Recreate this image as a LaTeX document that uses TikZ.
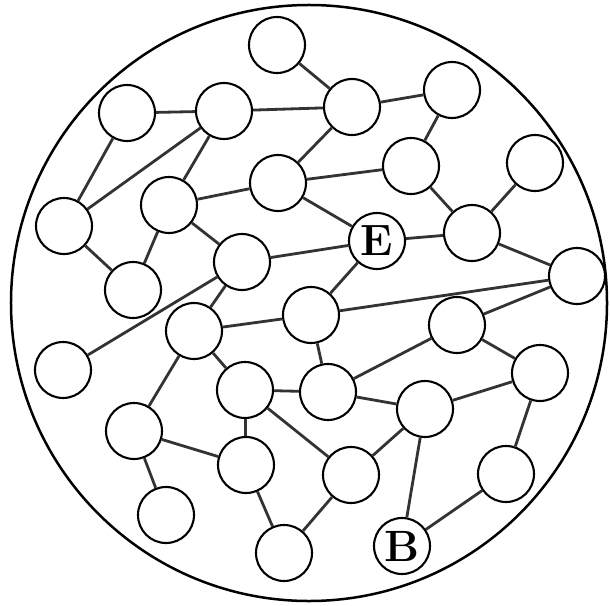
\documentclass[tikz,border=0pt]{standalone}
\begin{document}
\begin{tikzpicture}[x=1bp,y=-1bp,
  ball/.style={circle,draw=black,line width=2.1bp,fill=white,minimum size=56bp,inner sep=0pt,
    font=\fontsize{44}{44}\selectfont\bfseries},
  link/.style={line width=2.8bp,draw=black!80}]
\useasboundingbox (0,0) rectangle (610,606);
\node[circle,draw=black,line width=2.5bp,minimum size=596bp,inner sep=0pt] (outer) at (309,303) {};
\node[ball] (n1) at (277,45) {};
\node[ball] (n2) at (127,113) {};
\node[ball] (n3) at (224,111) {};
\node[ball] (n4) at (352,107) {};
\node[ball] (n5) at (452,90) {};
\node[ball] (n6) at (411,166) {};
\node[ball] (n7) at (535,163) {};
\node[ball] (n8) at (278,183) {};
\node[ball] (n9) at (169,205) {};
\node[ball] (n10) at (64,226) {};
\node[ball] (E) at (377,241) {E};
\node[ball] (n12) at (472,233) {};
\node[ball] (n13) at (242,262) {};
\node[ball] (n14) at (133,290) {};
\node[ball] (n15) at (577,276) {};
\node[ball] (n16) at (311,315) {};
\node[ball] (n17) at (194,331) {};
\node[ball] (n18) at (457,325) {};
\node[ball] (n19) at (63,370) {};
\node[ball] (n20) at (245,390) {};
\node[ball] (n21) at (328,392) {};
\node[ball] (n22) at (540,373) {};
\node[ball] (n23) at (425,409) {};
\node[ball] (n24) at (134,431) {};
\node[ball] (n25) at (246,465) {};
\node[ball] (n26) at (351,475) {};
\node[ball] (n27) at (506,474) {};
\node[ball] (n28) at (166,515) {};
\node[ball] (n29) at (284,553) {};
\node[ball] (B) at (402,546) {B};
\foreach \a/\b in {n1/n4,n2/n3,n2/n10,n3/n10,n3/n4,n3/n9,n4/n5,n4/n8,n5/n6,n6/n12,n7/n12,
  n8/n9,n8/n6,n8/E,n9/n13,n9/n14,n10/n14,n13/E,E/n12,E/n16,n12/n15,n13/n17,n19/n13,
  n16/n15,n17/n16,n17/n20,n17/n24,n16/n21,n20/n21,n20/n25,n20/n26,n21/n18,n21/n23,
  n18/n15,n18/n22,n23/n22,n23/n26,n23/B,n22/n27,n27/B,n24/n25,n24/n28,n25/n29,n26/n29}
  \draw[link] (\a) -- (\b);
\end{tikzpicture}
\end{document}
